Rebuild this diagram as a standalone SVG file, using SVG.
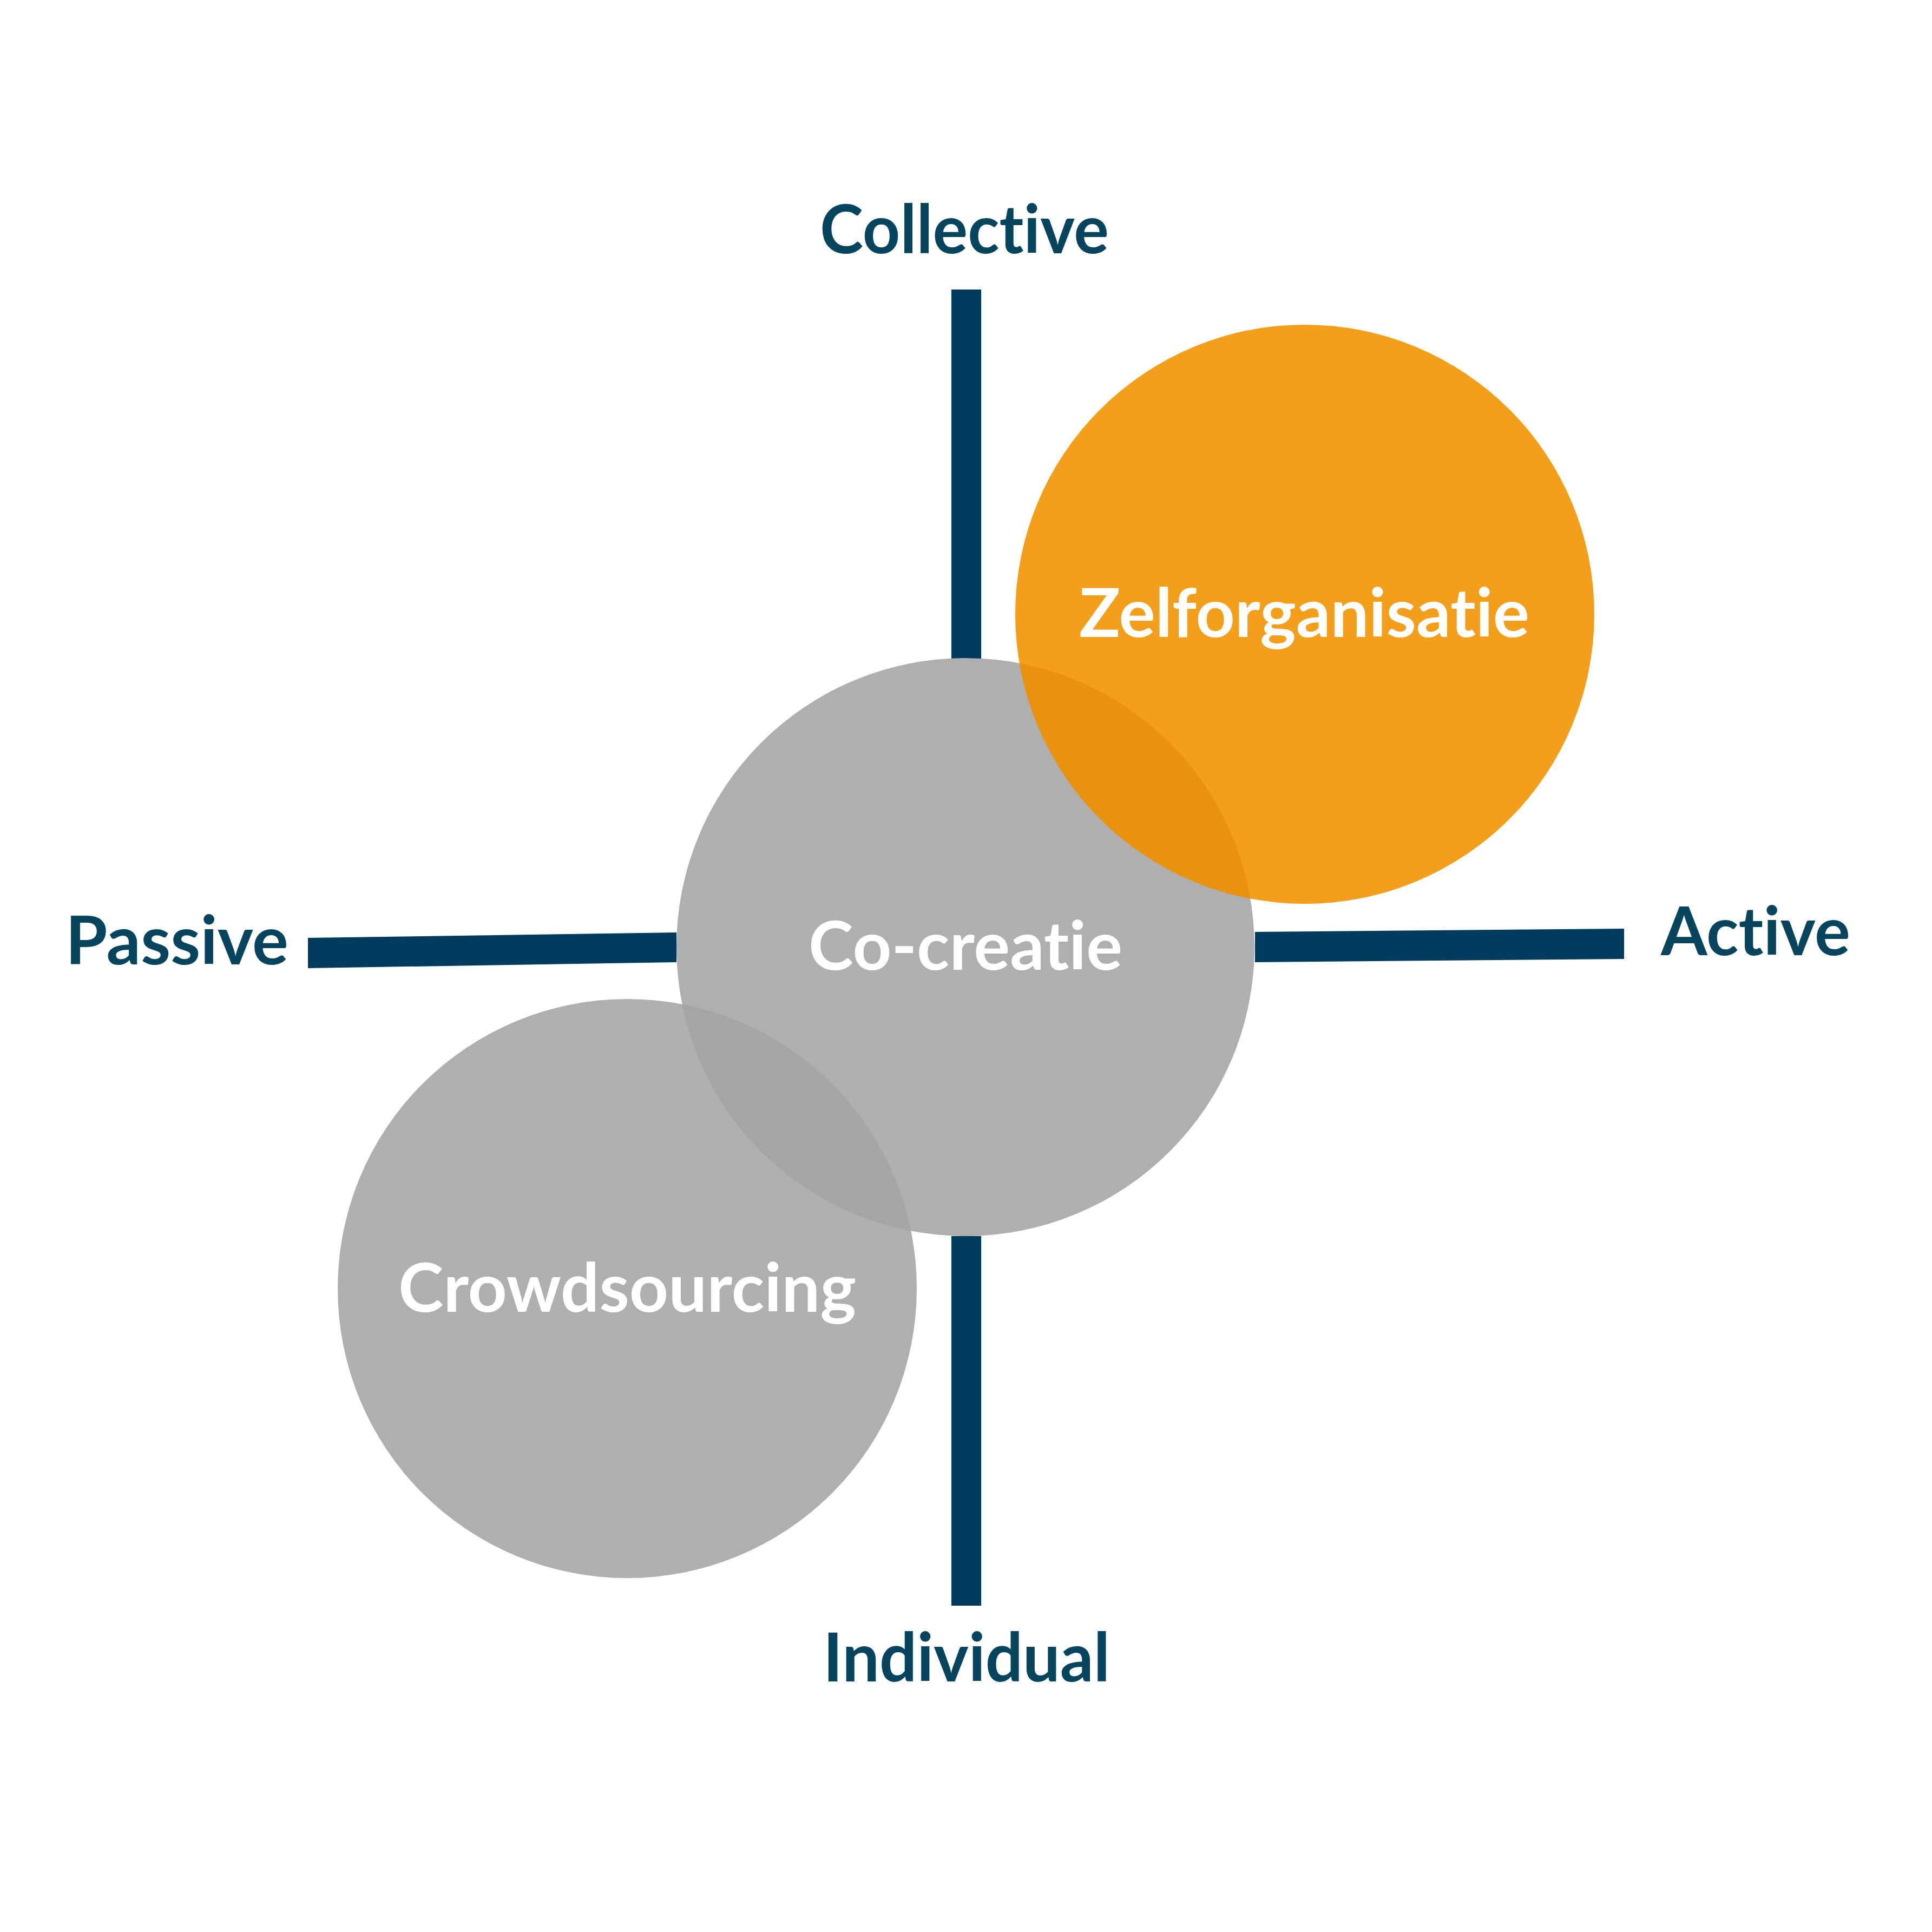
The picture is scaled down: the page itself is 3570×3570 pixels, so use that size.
<svg xmlns="http://www.w3.org/2000/svg" width="3570" height="3570" viewBox="0 0 3570 3570">
<style>
.axis{fill:#013C5F}
text{font-variant-ligatures:none;font-feature-settings:"liga" 0,"clig" 0,"dlig" 0}
.axl{font-family:Lato,"Open Sans","Liberation Sans",sans-serif;font-weight:700;font-size:124px;fill:#07455F;text-anchor:middle}
.lbl{font-family:Lato,"Open Sans","Liberation Sans",sans-serif;font-weight:700;font-size:124px;fill:#FFFFFF;text-anchor:middle}
.gray{fill:#AFAFAF}
.orange{fill:#F49F1B}
</style>
<defs>
<clipPath id="clipCo"><circle cx="1784" cy="1750" r="534"/></clipPath>
</defs>
<rect width="3570" height="3570" fill="#FFFFFF"/>
<g id="connectors">
<rect class="axis" x="1758" y="535" width="55" height="683"/>
<rect class="axis" x="1758" y="2284" width="55" height="683"/>
<polygon class="axis" points="569,1733 1250,1723 1250,1778 569,1789"/>
<polygon class="axis" points="2319,1722 3001,1716 3001,1772 2319,1778"/>
</g>
<g id="axis-labels">
<text class="axl" x="1782" y="468" textLength="534" lengthAdjust="spacingAndGlyphs">Collective</text>
<text class="axl" x="327" y="1782" textLength="412" lengthAdjust="spacingAndGlyphs">Passive</text>
<text class="axl" x="3244" y="1765" textLength="350" lengthAdjust="spacingAndGlyphs">Active</text>
<text class="axl" x="1786" y="3107" textLength="530" lengthAdjust="spacingAndGlyphs">Individual</text>
</g>
<g id="node-cocreatie">
<circle class="gray" cx="1784" cy="1750" r="534"/>
</g>
<g id="node-zelforganisatie">
<circle class="orange" cx="2411" cy="1135" r="535"/>
<circle cx="2411" cy="1135" r="535" fill="#E9920F" clip-path="url(#clipCo)"/>
</g>
<g id="node-crowdsourcing">
<circle class="gray" cx="1159" cy="2381" r="535"/>
<circle cx="1159" cy="2381" r="535" fill="#A5A5A5" clip-path="url(#clipCo)"/>
</g>
<g id="labels">
<text class="lbl" x="2410" y="1177" textLength="832" lengthAdjust="spacingAndGlyphs">Zelforganisatie</text>
<text class="lbl" x="1784" y="1792" textLength="580" lengthAdjust="spacingAndGlyphs">Co-creatie</text>
<text class="lbl" x="1159" y="2424" textLength="846" lengthAdjust="spacingAndGlyphs">Crowdsourcing</text>
</g>
</svg>
